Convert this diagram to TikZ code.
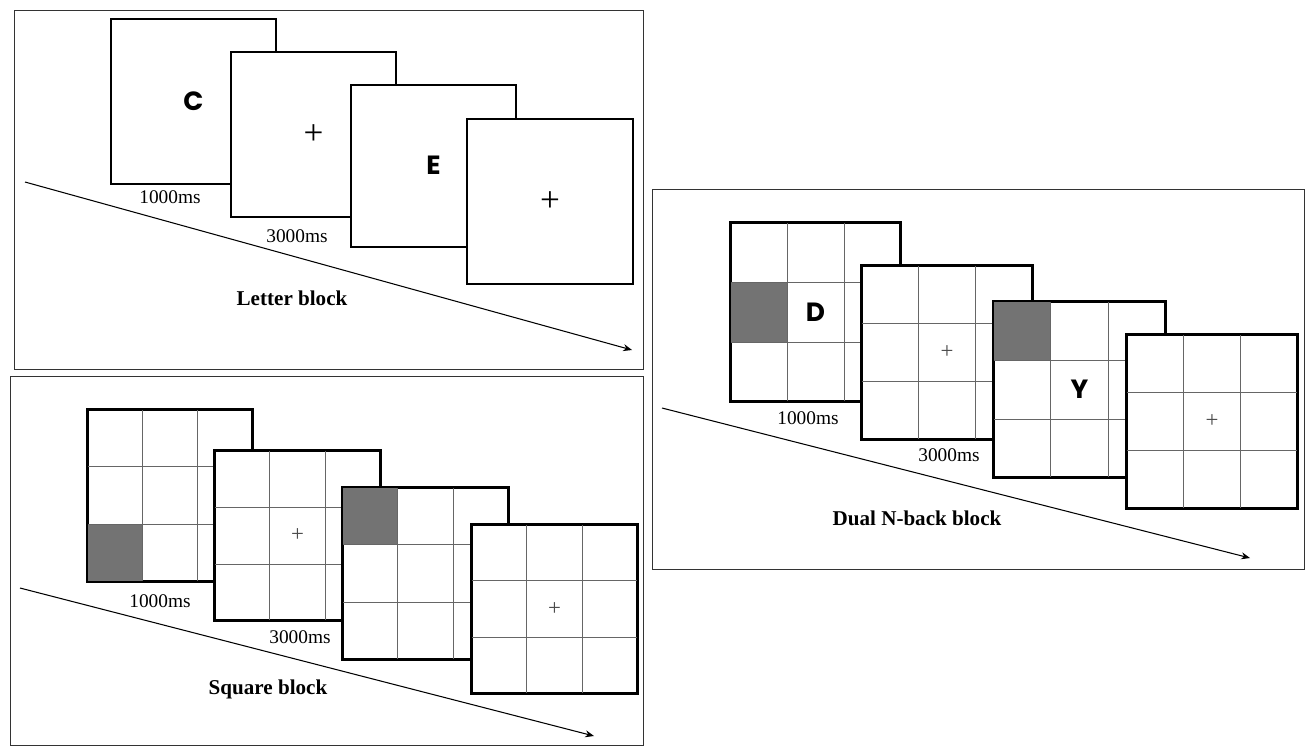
\documentclass[tikz,border=0pt]{standalone}
\usepackage{fontspec}
\setmainfont{Liberation Serif}
\newfontfamily\lettfont{Poppins}
\usetikzlibrary{positioning,calc,arrows.meta}

\tikzset{
  panel/.style={draw=black!80,line width=0.8pt,anchor=north west,inner sep=0pt},
  frame/.style={draw=black,fill=white,line width=1.1pt,anchor=north west,inner sep=0pt},
  timeline/.style={-{Stealth[length=5pt,width=4pt]},line width=0.6pt},
  gridline/.style={draw=black!60,line width=0.5pt},
  lett/.style={font=\lettfont\bfseries\fontsize{15}{15}\selectfont},
  fix/.style={font=\fontsize{20}{20}\selectfont},
  sfix/.style={font=\fontsize{13}{13}\selectfont,text=black!70},
  dur/.style={font=\fontsize{11}{11}\selectfont},
  blk/.style={font=\bfseries\fontsize{12}{12}\selectfont},
}
% 3x3 grid inside a frame node
\newcommand\tgrid[1]{%
  \foreach \t in {1,2}{
    \draw[gridline] ($(#1.north west)!\t/3!(#1.north east)$) -- ($(#1.south west)!\t/3!(#1.south east)$);
    \draw[gridline] ($(#1.north west)!\t/3!(#1.south west)$) -- ($(#1.north east)!\t/3!(#1.south east)$);
  }
  \draw[line width=1.1pt] (#1.north west) rectangle (#1.south east);
}
% gray cell: frame, column, row (0..2)
\newcommand\gcell[3]{%
  \path let \p1=(#1.north west), \p2=(#1.south east) in
    [fill=black!55] ({\x1+#2*(\x2-\x1)/3},{\y1+#3*(\y2-\y1)/3})
    rectangle ({\x1+(#2+1)*(\x2-\x1)/3},{\y1+(#3+1)*(\y2-\y1)/3});
}

\begin{document}
\begin{tikzpicture}[x=0.02cm,y=-0.02cm]
\useasboundingbox (0,0) rectangle (1314,755);

% letter block
\node[panel,minimum width=12.58cm,minimum height=7.18cm] (P1) at (14,10) {};
\draw[timeline] (25,182) coordinate (s1) -- (632,350) coordinate (e1);
\node[frame,minimum width=3.3cm,minimum height=3.3cm] (L1) at (110,18) {};
\node[lett] at ($(L1.center)+(0,-0.3)$) {C};
\node[frame,minimum width=3.3cm,minimum height=3.3cm] (L2) at (230,51) {};
\node[fix] at (L2.center) {+};
\node[frame,minimum width=3.3cm,minimum height=3.24cm] (L3) at (350,84) {};
\node[lett] at ($(L3.center)+(0,-0.3)$) {E};
\node[frame,minimum width=3.32cm,minimum height=3.3cm] (L4) at (466,118) {};
\node[fix] at (L4.center) {+};
\node[dur] at (170,197) {1000ms};
\node[dur] at (297,236) {3000ms};
\node[blk] at (292,298) {Letter block};

% square block
\node[panel,minimum width=12.66cm,minimum height=7.38cm] (P2) at (10,376) {};
\draw[timeline] (20,588) coordinate (s2) -- (594,736) coordinate (e2);
\node[frame,minimum width=3.28cm,minimum height=3.42cm] (S1) at (87,409) {};
\gcell{S1}{0}{2}\tgrid{S1}
\node[frame,minimum width=3.3cm,minimum height=3.38cm] (S2) at (214,450) {};
\tgrid{S2}\node[sfix] at (S2.center) {+};
\node[frame,minimum width=3.3cm,minimum height=3.42cm] (S3) at (342,487) {};
\gcell{S3}{0}{0}\tgrid{S3}
\node[frame,minimum width=3.3cm,minimum height=3.36cm] (S4) at (471,524) {};
\tgrid{S4}\node[sfix] at (S4.center) {+};
\node[dur] at (160,601) {1000ms};
\node[dur] at (300,637) {3000ms};
\node[blk] at (268,689) {Square block};

% dual block
\node[panel,minimum width=13.04cm,minimum height=7.6cm] (P3) at (652,189) {};
\draw[timeline] (662,408) coordinate (s3) -- (1250,558) coordinate (e3);
\node[frame,minimum width=3.38cm,minimum height=3.56cm] (D1) at (730,222) {};
\gcell{D1}{0}{1}\tgrid{D1}\node[lett] at (D1.center) {D};
\node[frame,minimum width=3.4cm,minimum height=3.46cm] (D2) at (861,265) {};
\tgrid{D2}\node[sfix] at (D2.center) {+};
\node[frame,minimum width=3.42cm,minimum height=3.5cm] (D3) at (993,301) {};
\gcell{D3}{0}{0}\tgrid{D3}\node[lett] at (D3.center) {Y};
\node[frame,minimum width=3.4cm,minimum height=3.46cm] (D4) at (1126,334) {};
\tgrid{D4}\node[sfix] at (D4.center) {+};
\node[dur] at (808,418) {1000ms};
\node[dur] at (949,455) {3000ms};
\node[blk] at (917,518) {Dual N-back block};
\end{tikzpicture}
\end{document}
